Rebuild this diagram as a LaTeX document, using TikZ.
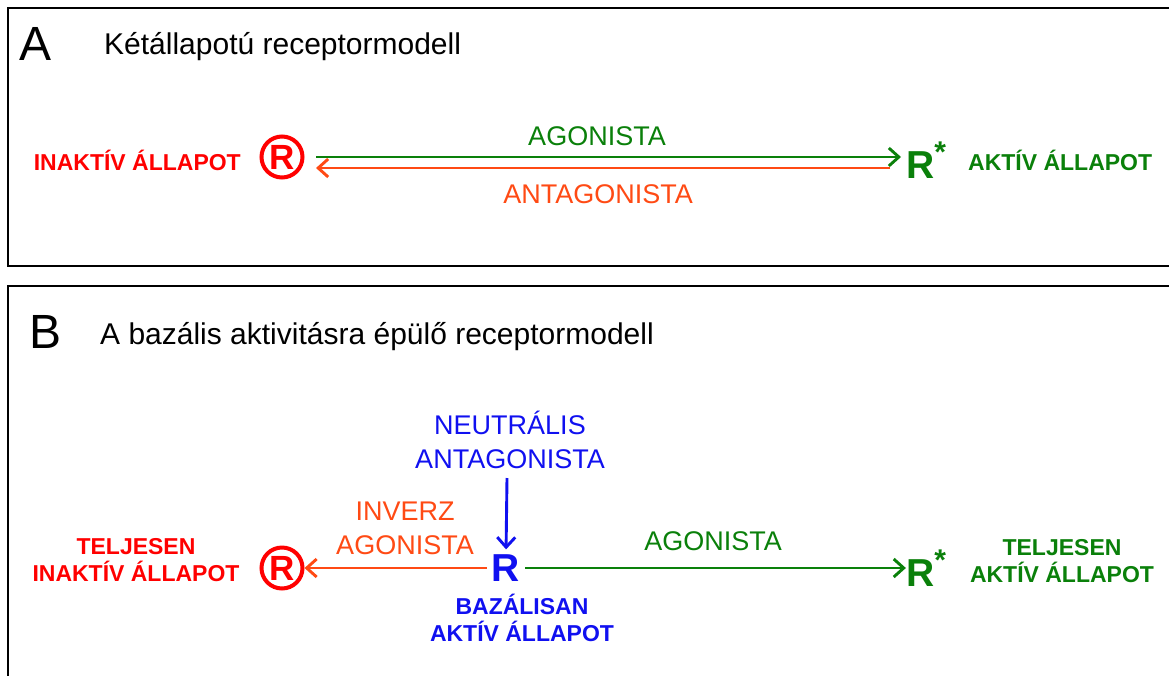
\documentclass[tikz,border=0pt]{standalone}
\usepackage{fontspec}
\setmainfont{Liberation Sans}
\usetikzlibrary{arrows.meta}
\definecolor{actred}{HTML}{FF0000}
\definecolor{actgreen}{HTML}{0A800A}
\definecolor{invorange}{HTML}{FF4A14}
\definecolor{basblue}{HTML}{1010F0}
\tikzset{
  x=1pt, y=-1pt,
  panel/.style={draw=black, line width=2.2pt},
  letter/.style={font=\fontsize{48}{48}\selectfont, anchor=west, inner sep=0pt},
  heading/.style={font=\fontsize{30}{30}\selectfont, anchor=west, inner sep=0pt},
  lbl/.style={font=\fontsize{27}{34}\selectfont, align=center, inner sep=0pt},
  state/.style={font=\bfseries\fontsize{23}{27}\selectfont, align=center, inner sep=0pt},
  rec/.style={font=\bfseries\fontsize{39}{39}\selectfont, inner sep=0pt},
  inact/.style={draw=actred, text=actred, circle, line width=4pt, minimum size=41pt,
    inner sep=0pt, font=\bfseries\fontsize{35}{35}\selectfont},
  conn/.style={line width=2.9pt, -{Straight Barb[length=10pt, width=18pt, line width=2.9pt]}},
}
\begin{document}
\begin{tikzpicture}
\useasboundingbox (0,0) rectangle (1169,675);

% panel frames
\draw[panel] (1180,8) -- (8,8) -- (8,266) -- (1180,266);
\draw[panel] (1180,286) -- (8,286) -- (8,690);

% ---- panel A: two-state model ----
\node[letter] (la) at (19,44) {A};
\node[heading] (ta) at (104,47) {Kétállapotú receptormodell};

\node[state, text=actred, anchor=east] (ia) at (241,160) {INAKTÍV ÁLLAPOT};
\node[inact] (ra) at (282,157) {R};
\node[rec, text=actgreen] (sa) at (926,160) {R\raisebox{0.42em}{\fontsize{30}{30}\selectfont*}};
\node[state, text=actgreen, anchor=west] (aa) at (968,160) {AKTÍV ÁLLAPOT};

\coordinate (a1) at (316,157);
\coordinate (a2) at (901,157);
\coordinate (b1) at (890,168);
\coordinate (b2) at (316,168);
\draw[conn, actgreen] (a1) -- (a2);
\draw[conn, invorange] (b1) -- (b2);
\node[lbl, text=actgreen] (ag) at (597,136) {AGONISTA};
\node[lbl, text=invorange] (an) at (598,194) {ANTAGONISTA};

% ---- panel B: basal-activity model ----
\node[letter] (lb) at (29,332) {B};
\node[heading] (tb) at (100,337) {A bazális aktivitásra épülő receptormodell};

\node[state, text=actred] (ib) at (136,560) {TELJESEN\\INAKTÍV ÁLLAPOT};
\node[inact] (rb) at (282,568) {R};
\node[rec, text=basblue] (r0) at (506,568) {R};
\node[state, text=basblue] (bs) at (522,618) {BAZÁLISAN\\AKTÍV ÁLLAPOT};
\node[rec, text=actgreen] (sb) at (926,568) {R\raisebox{0.42em}{\fontsize{30}{30}\selectfont*}};
\node[state, text=actgreen] (ab) at (1062,561) {TELJESEN\\AKTÍV ÁLLAPOT};

\node[lbl, text=basblue] (na) at (510,440) {NEUTRÁLIS\\ANTAGONISTA};
\node[lbl, text=invorange] (ia2) at (405,528) {INVERZ\\AGONISTA};
\node[lbl, text=actgreen] (ag2) at (713,541) {AGONISTA};

\draw[conn, basblue, shorten >=5pt] (507,478) -- (r0.north);
\draw[conn, invorange, shorten <=5pt] (r0.west) -- (rb.east);
\draw[conn, actgreen, shorten <=5pt] (r0.east) -- (sb.west);
\end{tikzpicture}
\end{document}
